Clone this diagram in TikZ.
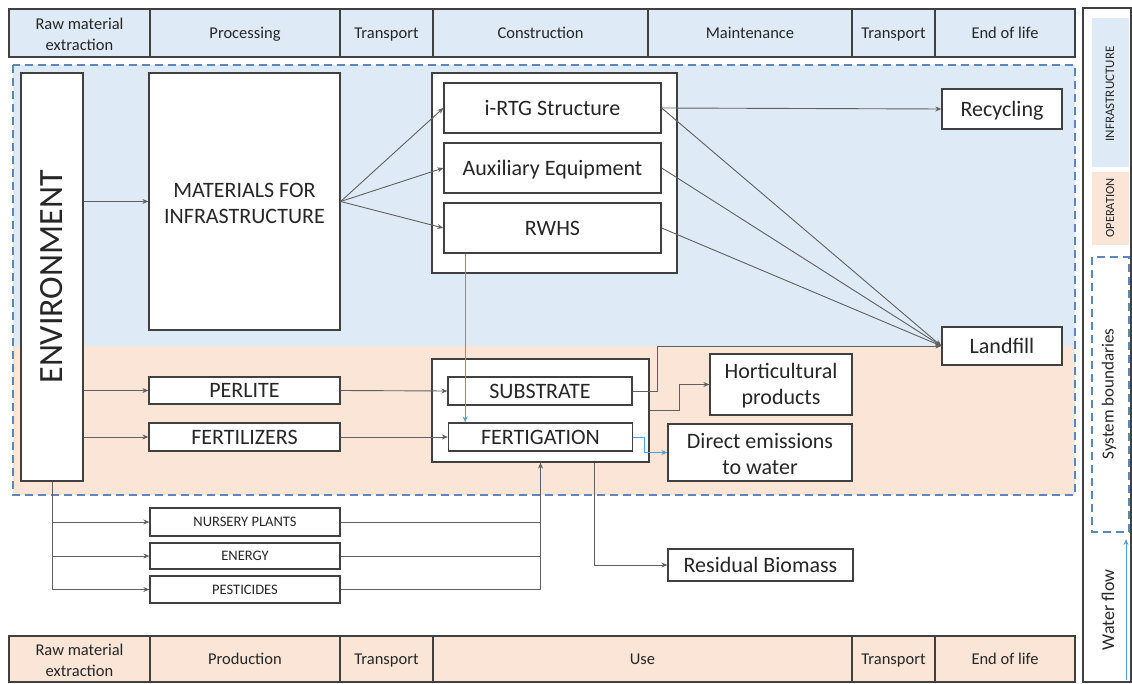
\documentclass[tikz,border=0pt]{standalone}
\usepackage{fontspec}
\setmainfont{Carlito}
\usetikzlibrary{arrows.meta,calc}
\definecolor{infra}{HTML}{DEEBF7}
\definecolor{oper}{HTML}{FBE5D6}
\definecolor{bline}{HTML}{5B87BD}
\definecolor{boxline}{HTML}{404040}
\definecolor{conn}{HTML}{606060}
\definecolor{waterc}{HTML}{5B9BD5}
\definecolor{txt}{HTML}{262626}
\newcommand{\mycstrut}{\rule[-0.26em]{0pt}{1.16em}}
\begin{document}
\begin{tikzpicture}[x=1pt,y=-1pt,
  box/.style={draw=boxline, line width=1.3pt, fill=white, inner sep=0pt, align=center, text=txt, font=\fontsize{22}{26}\selectfont, execute at begin node=\mycstrut, execute at end node=\mycstrut},
  boxtext/.style={inner sep=0pt, align=center, text=txt, font=\fontsize{22}{26}\selectfont},
  headtext/.style={inner sep=0pt, align=center, text=txt, font=\fontsize{16.5}{21}\selectfont},
  smallbox/.style={box, font=\fontsize{14.5}{16}\selectfont},
  hcell/.style={draw=boxline, line width=1.3pt, inner sep=0pt, align=center, text=txt, minimum height=48pt, font=\fontsize{16.5}{21}\selectfont, execute at begin node=\mycstrut, execute at end node=\mycstrut},
  bcell/.style={hcell, minimum height=46pt, fill=oper},
  tcell/.style={hcell, fill=infra},
  flow/.style={draw=conn, line width=0.9pt, -{Stealth[length=6pt,width=5pt]}},
  plain/.style={draw=conn, line width=0.9pt},
  waterflow/.style={draw=waterc, line width=0.9pt, -{Stealth[length=6pt,width=5pt]}},
  bound/.style={draw=bline, line width=1.6pt, dash pattern=on 8pt off 5pt},
  legtext/.style={rotate=90, inner sep=0pt, text=txt},
]
\useasboundingbox (0,0) rectangle (1132,684);

% system boundary regions
\fill[infra] (13,65) rectangle (1075,346);
\fill[oper] (13,346) rectangle (1075,495);
\draw[bound] (13,65) rectangle (1075,495);

% top header
\node[tcell, minimum width=141pt] (h1) at (79.5,33) {};
\node[headtext] (h1text) at ($(h1.center)+(0,1.5)$) {Raw material\\extraction};
\node[tcell, minimum width=190pt] (h2) at (245,33) {Processing};
\node[tcell, minimum width=93pt] (h3) at (386.5,33) {Transport};
\node[tcell, minimum width=215pt] (h4) at (540.5,33) {Construction};
\node[tcell, minimum width=204pt] (h5) at (750,33) {Maintenance};
\node[tcell, minimum width=83pt] (h6) at (893.5,33) {Transport};
\node[tcell, minimum width=140pt] (h7) at (1005,33) {End of life};

% bottom header
\node[bcell, minimum width=141pt] (b1) at (79.5,659) {};
\node[headtext] (b1text) at ($(b1.center)+(0,1.5)$) {Raw material\\extraction};
\node[bcell, minimum width=190pt] (b2) at (245,659) {Production};
\node[bcell, minimum width=93pt] (b3) at (386.5,659) {Transport};
\node[bcell, minimum width=419pt] (b4) at (642.5,659) {Use};
\node[bcell, minimum width=83pt] (b5) at (893.5,659) {Transport};
\node[bcell, minimum width=140pt] (b6) at (1005,659) {End of life};

% legend
\draw[draw=boxline, line width=1.2pt] (1083,8) rectangle (1131,682);
\fill[infra] (1092,18) rectangle (1129,167);
\node[legtext, font=\fontsize{13}{15}\selectfont] (leginf) at (1110,94) {INFRASTRUCTURE};
\fill[oper] (1092,172) rectangle (1129,245);
\node[legtext, font=\fontsize{12.5}{15}\selectfont] (legop) at (1110,208) {OPERATION};
\draw[bound] (1092,257) rectangle (1129,532);
\node[legtext, font=\fontsize{17}{20}\selectfont] (legsb) at (1109,394) {System boundaries};
\node[legtext, font=\fontsize{18}{20}\selectfont] (legwf) at (1108,610) {Water flow};
\coordinate (wfa) at (1126,680);
\coordinate (wfb) at (1126,539);
\draw[waterflow] (wfa) -- (wfb);

% main boxes
\node[box, minimum width=62pt, minimum height=408pt] (env) at (52,277) {};
\node[legtext, font=\fontsize{34}{40}\selectfont] (envlabel) at (env.center) {ENVIRONMENT};
\node[box, minimum width=191pt, minimum height=257pt] (mat) at (244.5,201.5) {};
\node[boxtext] (mattext) at ($(mat.center)+(0,1.5)$) {MATERIALS FOR\\INFRASTRUCTURE};
\node[box, minimum width=245pt, minimum height=200pt] (conbox) at (554.5,173) {};
\node[box, minimum width=217pt, minimum height=50pt] (irtg) at (552.5,108) {i-RTG Structure};
\node[box, minimum width=217pt, minimum height=50pt] (aux) at (552.5,168) {Auxiliary Equipment};
\node[box, minimum width=217pt, minimum height=50pt] (rwhs) at (552.5,228) {RWHS};
\node[box, minimum width=120pt, minimum height=40pt] (recyc) at (1002,109) {Recycling};
\node[box, minimum width=120pt, minimum height=38pt] (landf) at (1002,346) {Landfill};
\node[box, minimum width=191pt, minimum height=27pt] (perl) at (244.5,390.5) {PERLITE};
\node[box, minimum width=191pt, minimum height=28pt] (fertz) at (244.5,437) {FERTILIZERS};
\node[box, minimum width=217pt, minimum height=103pt] (opbox) at (540.5,410.5) {};
\node[box, minimum width=184pt, minimum height=28pt] (subs) at (540,391) {SUBSTRATE};
\node[box, minimum width=184pt, minimum height=28pt] (fertig) at (540.5,437) {FERTIGATION};
\node[box, minimum width=142pt, minimum height=61pt] (hort) at (781,384.5) {};
\node[boxtext] (horttext) at ($(hort.center)+(0,1.5)$) {Horticultural\\products};
\node[box, minimum width=184pt, minimum height=57pt] (emis) at (760,452.5) {};
\node[boxtext] (emistext) at ($(emis.center)+(0,1.5)$) {Direct emissions\\to water};
\node[box, minimum width=185pt, minimum height=32pt] (resid) at (760.5,565) {Residual Biomass};
\node[smallbox, minimum width=190pt, minimum height=28pt] (nurs) at (245,522) {NURSERY PLANTS};
\node[smallbox, minimum width=190pt, minimum height=26pt] (ener) at (245,556) {ENERGY};
\node[smallbox, minimum width=190pt, minimum height=27pt] (pest) at (245,589.5) {PESTICIDES};

% connectors
\draw[flow] (env.east |- mat.west) -- (mat.west);
\draw[flow] (env.east |- perl.west) -- (perl.west);
\draw[flow] (env.east |- fertz.west) -- (fertz.west);
\draw[flow] (mat.east) -- (irtg.west);
\draw[flow] (mat.east) -- (aux.west);
\draw[flow] (mat.east) -- (rwhs.west);
\draw[flow] (irtg.east) -- (recyc.west);
\draw[flow] (irtg.east) -- (landf.west);
\draw[flow] (aux.east) -- (landf.west);
\draw[flow] (rwhs.east) -- (landf.west);
\draw[flow] (subs.east) -- ++(25,0) |- (landf.west);
\draw[flow] (perl.east) -- (subs.west);
\draw[flow] (fertz.east) -- (fertig.west);
\draw[flow] (opbox.east) -- ++(30,0) |- (hort.west);
\draw[waterflow] ($(rwhs.south west)!0.1!(rwhs.south east)$) coordinate (w1) -- (w1 |- fertig.north);
\draw[waterflow] (fertig.east) -- ++(11,0) |- (emis.west);
\draw[flow] ($(opbox.south west)!0.747!(opbox.south east)$) |- (resid.west);
\draw[flow] (env.south) |- (pest.west);
\draw[flow] (env.south |- nurs.west) -- (nurs.west);
\draw[flow] (env.south |- ener.west) -- (ener.west);
\draw[flow] (pest.east) -| (opbox.south);
\draw[plain] (nurs.east) -- (nurs.east -| opbox.south);
\draw[plain] (ener.east) -- (ener.east -| opbox.south);
\end{tikzpicture}
\end{document}
